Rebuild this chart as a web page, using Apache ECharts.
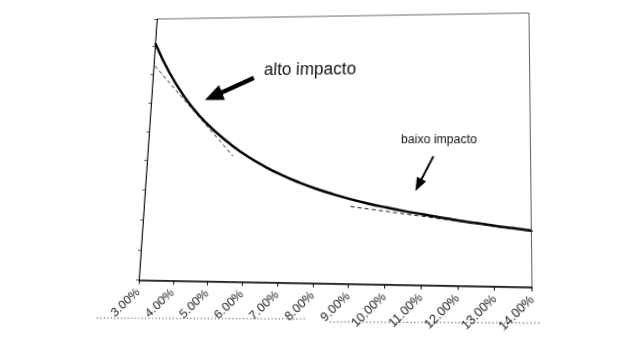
<!DOCTYPE html>
<html><head><meta charset="utf-8">
<script src="https://cdn.jsdelivr.net/npm/echarts@6/dist/echarts.min.js"></script>
<style>
html,body{margin:0;padding:0;background:#fff;overflow:hidden;}
#chart{width:640px;height:340px;transform-origin:0 0;}
</style></head>
<body><div id="chart"></div>
<script>
// ---- data ----
const xTickLabels = ['3.00%','4.00%','5.00%','6.00%','7.00%','8.00%','9.00%','10.00%','11.00%','12.00%','13.00%','14.00%'];
const rateX  = [3.0, 3.5, 4.0, 4.5, 5.0, 5.5, 6.0, 6.5, 7.0, 7.5, 8.0, 8.5, 9.0, 9.5, 10.0, 10.5, 11.0, 11.5, 12.0, 12.5, 13.0, 13.5, 14.0];
const curveY = [8.12, 7.05, 6.20, 5.52, 4.98, 4.52, 4.13, 3.80, 3.52, 3.28, 3.07, 2.89, 2.73, 2.59, 2.47, 2.36, 2.26, 2.16, 2.07, 1.99, 1.91, 1.84, 1.77];
const tangentHighX = [3.04, 5.55];
const tangentHighY = [7.30, 4.15];
const tangentLowX  = [9.00, 14.24];
const tangentLowY  = [2.49, 1.72];
const altoArrowFrom  = [6.05, 6.85];
const altoArrowTo    = [4.87, 6.22];
const baixoArrowFrom = [11.31, 4.16];
const baixoArrowTo   = [10.90, 3.21];
const altoLabelAt    = [6.33, 7.10];
const baixoLabelAt   = [10.38, 4.69];
const altoText  = 'alto impacto';
const baixoText = 'baixo impacto';

// ---- page distortion (scanned-page keystone) ----
const srcQuad = [[148,16],[530.5,16],[530.5,283.5],[148,283.5]];
const dstQuad = [[157,19],[529,13],[532,287],[139,280]];
function solveH(src, dst){
  const A=[], B=[];
  for(let i=0;i<4;i++){
    const [x,y]=src[i], [X,Y]=dst[i];
    A.push([x,y,1,0,0,0,-x*X,-y*X]); B.push(X);
    A.push([0,0,0,x,y,1,-x*Y,-y*Y]); B.push(Y);
  }
  const n=8;
  for(let c=0;c<n;c++){
    let p=c; for(let r=c+1;r<n;r++) if(Math.abs(A[r][c])>Math.abs(A[p][c])) p=r;
    [A[c],A[p]]=[A[p],A[c]]; [B[c],B[p]]=[B[p],B[c]];
    for(let r=0;r<n;r++){ if(r===c) continue; const f=A[r][c]/A[c][c];
      for(let k=c;k<n;k++) A[r][k]-=f*A[c][k]; B[r]-=f*B[c]; }
  }
  return B.map((b,i)=>b/A[i][i]);
}
const H = solveH(srcQuad, dstQuad);
const [ha,hb,hc,hd,he,hf,hg,hh] = H;
function invMap(X,Y){
  const a11=ha-hg*X, a12=hb-hh*X, b1=X-hc;
  const a21=hd-hg*Y, a22=he-hh*Y, b2=Y-hf;
  const det=a11*a22-a12*a21;
  return [(b1*a22-a12*b2)/det, (a11*b2-b1*a21)/det];
}
const el = document.getElementById('chart');
el.style.transform = `matrix3d(${ha},${hd},0,${hg},${hb},${he},0,${hh},0,0,1,0,${hc},${hf},0,1)`;

function dottedLine(p1, p2){
  const a=invMap(p1[0],p1[1]), b=invMap(p2[0],p2[1]);
  return {type:'line', shape:{x1:a[0],y1:a[1],x2:b[0],y2:b[1]},
    style:{stroke:'#555', lineWidth:1.2, lineDash:[1,2.5]}, silent:true};
}

const chart = echarts.init(el, null, {renderer:'canvas'});
const font = 'Liberation Sans, Arial, sans-serif';
chart.setOption({
  animation:false,
  backgroundColor:'#fff',
  grid:{left:148, right:109.5, top:16, bottom:56.5, show:true, borderColor:'#666', borderWidth:1, backgroundColor:'transparent'},
  xAxis:{type:'value', min:3, max:14, interval:1,
    axisLine:{show:true, onZero:false, lineStyle:{color:'#111', width:1.5}},
    axisTick:{show:true, length:4, lineStyle:{color:'#111'}},
    splitLine:{show:false},
    axisLabel:{rotate:45, fontSize:12, color:'#222', fontFamily:font, margin:10,
      showMinLabel:true, showMaxLabel:true,
      formatter:v=>xTickLabels[Math.round(v-3)]}},
  yAxis:{type:'value', min:0, max:9, interval:1,
    axisLine:{show:true, lineStyle:{color:'#222', width:1}},
    axisTick:{show:true, length:3, lineStyle:{color:'#555'}},
    axisLabel:{show:false}, splitLine:{show:false}},
  series:[
    {type:'line', name:'curve', smooth:true, symbol:'none',
     lineStyle:{color:'#000', width:2.5},
     data:rateX.map((x,i)=>[x,curveY[i]])},
    {type:'line', name:'tangentHigh', symbol:'none',
     lineStyle:{color:'#222', width:1, type:[4,3]},
     data:tangentHighX.map((x,i)=>[x,tangentHighY[i]]),
     markLine:{silent:true, symbol:['none','triangle'], symbolSize:[17,19],
       lineStyle:{color:'#000', width:4.5, type:'solid'}, label:{show:false},
       data:[[{coord:altoArrowFrom},{coord:altoArrowTo}]]},
     markPoint:{symbol:'circle', symbolSize:1, itemStyle:{color:'rgba(0,0,0,0)'},
       label:{show:true, position:'right', distance:0, color:'#111', fontSize:17.5, fontFamily:font, formatter:altoText},
       data:[{coord:altoLabelAt}]}},
    {type:'line', name:'tangentLow', symbol:'none', clip:false,
     lineStyle:{color:'#222', width:1, type:[4,3]},
     data:tangentLowX.map((x,i)=>[x,tangentLowY[i]]),
     markLine:{silent:true, symbol:['none','triangle'], symbolSize:[10,13],
       lineStyle:{color:'#000', width:2, type:'solid'}, label:{show:false},
       data:[[{coord:baixoArrowFrom},{coord:baixoArrowTo}]]},
     markPoint:{symbol:'circle', symbolSize:1, itemStyle:{color:'rgba(0,0,0,0)'},
       label:{show:true, position:'right', distance:0, color:'#111', fontSize:12, fontFamily:font, formatter:baixoText},
       data:[{coord:baixoLabelAt}]}}
  ],
  graphic:[
    dottedLine([97,318],[306,319]),
    dottedLine([330,322],[540,323])
  ]
});
</script>
</body></html>
